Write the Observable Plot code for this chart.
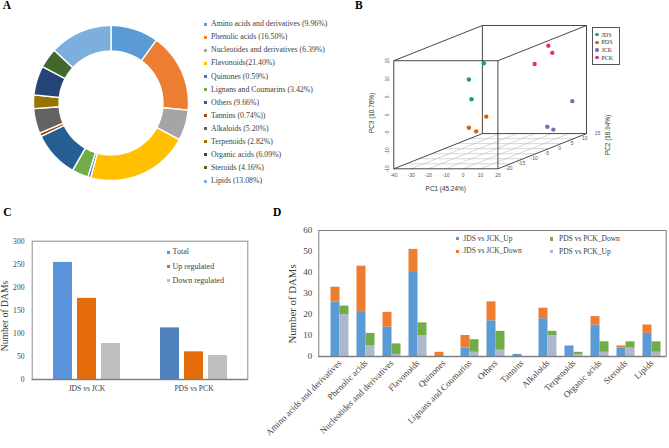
<!DOCTYPE html>
<html><head><meta charset="utf-8">
<script src="https://cdn.jsdelivr.net/npm/d3@7"></script>
<script src="https://cdn.jsdelivr.net/npm/@observablehq/plot@0.6"></script>
<style>
body{margin:0;background:#fff}
#root{position:relative;width:669px;height:448px;overflow:hidden;background:#fff}
#root svg{position:absolute}
.t{position:absolute;white-space:nowrap;line-height:1}
.m{position:absolute}
</style></head><body><div id="root"></div>
<script>
const SERIF = "'Liberation Serif','Times New Roman',serif";
const SANS = "'Liberation Sans',Arial,sans-serif";

// ---------- A: composition donut ----------
const pieNames = ["Amino acids and derivatives","Phenolic acids","Nucleotides and derivatives","Flavonoids","Quinones","Lignans and Coumarins","Others","Tannins","Alkaloids","Terpenoids","Organic acids","Steroids","Lipids"];
const pieLabels = ["Amino acids and derivatives (9.96%)","Phenolic acids (16.50%)","Nucleotides and derivatives (6.39%)","Flavonoids(21.40%)","Quinones (0.59%)","Lignans and Coumarins (3.42%)","Others (9.66%)","Tannins (0.74%))","Alkaloids (5.20%)","Terpenoids (2.82%)","Organic acids (6.09%)","Steroids (4.16%)","Lipids (13.08%)"];
const piePct = [9.96,16.50,6.39,21.40,0.59,3.42,9.66,0.74,5.20,2.82,6.09,4.16,13.08];
const pieColors = ["#5B9BD5","#ED7D31","#A5A5A5","#FFC000","#4472C4","#70AD47","#255E91","#9E480E","#636363","#997300","#264478","#43682B","#7CAFDD"];

// ---------- B: PCA 3D ----------
const pcaGroups = ["JDS","PDS","JCK","PCK"];
const pcaColors = ["#1B9E77","#D95F02","#7570B3","#E7298A"];
const pcaGroup = ["JDS","JDS","JDS","PDS","PDS","PDS","JCK","JCK","JCK","PCK","PCK","PCK"];
const pc1 = [-2.7,-11.3,-9.8,-1.3,-11.3,-7.1,19.1,4.7,8.2,12.6,14.9,4.7];
const pc2 = [-10,-10,-10,-10,-10,-10,10,10,10,5,5,5];
const pc3 = [11.5,7.0,1.5,-3.3,-6.4,-7.4,-4.6,-11.7,-12.5,12.2,10.2,7.1];
const pc1Ticks = [-40,-30,-20,-10,0,10,20];
const pc2Ticks = [-20,-15,-10,-5,0,5,10,15];
const pc3Ticks = [-15,-10,-5,0,5,10,15];

// ---------- C: DAM totals ----------
const cGroups = ["JDS vs JCK","PDS vs PCK"];
const cSeries = ["Total","Up regulated","Down regulated"];
const cTotal = [254,112];
const cUp = [176,60];
const cDown = [78,52];
const cColors = ["#5B94DB","#E46C0A","#BFBFBF"];
const cTotalColors = ["#5B94DB","#4F81BD"];
const cTicks = [0,50,100,150,200,250,300];

// ---------- D: DAMs per class ----------
const dCats = ["Amino acids and derivatives","Phenolic acids","Nucleotides and derivatives","Flavonoids","Quinones","Lignans and Coumarins","Others","Tannins","Alkaloids","Terpenoids","Organic acids","Steroids","Lipids"];
const jdsUp   = [26,21,14,40,0,4,17,1,18,5,15,4,11];
const jdsDown = [7,22,7,11,2,6,9,0,5,0,4,1,4];
const pdsUp   = [20,5,1,10,0,2,3,0,10,1,2,4,2];
const pdsDown = [4,6,5,6,0,6,9,0,2,1,5,3,5];
const dSeries = ["JDS vs JCK_Up","JDS vs JCK_Down","PDS vs PCK_Down","PDS vs PCK_Up"];
const dColors = ["#5B9BD5","#ED7D31","#70AD47","#ADB9CA"];
const dTicks = [0,10,20,30,40,50,60];

const root = document.getElementById("root");
function place(el, x, y){ el.style.left = x+"px"; el.style.top = y+"px"; root.appendChild(el); return el; }
function txt(s, x, y, o={}){
  const d = document.createElement("div"); d.className = "t"; d.textContent = s;
  d.style.fontSize = (o.size||8)+"px"; d.style.fontFamily = o.family||SERIF;
  d.style.color = o.color||"#404040"; if (o.weight) d.style.fontWeight = o.weight;
  const ax = o.anchor==="middle" ? "-50%" : o.anchor==="end" ? "-100%" : "0";
  d.style.transform = `translate(${ax},-50%)` + (o.rotate ? ` rotate(${o.rotate}deg)` : "");
  return place(d, x, y);
}
function mark(x, y, w, h, color, round){
  const d = document.createElement("div"); d.className = "m";
  d.style.width = w+"px"; d.style.height = h+"px"; d.style.background = color;
  if (round) d.style.borderRadius = "50%";
  return place(d, x - w/2, y - h/2);
}
const baseStyle = (fs, fam, col) => ({background:"transparent", fontFamily:fam, fontSize:fs, color:col, overflow:"visible"});

// ===== A =====
const arcs = d3.pie().sort(null).value(d => d)(piePct);
const R0 = 0.67;
const ring = [];
arcs.forEach((a, i) => {
  const n = Math.max(2, Math.ceil((a.endAngle - a.startAngle) / 0.015));
  for (let k = 0; k <= n; k++) { const t = a.startAngle + (a.endAngle - a.startAngle) * k / n; ring.push({name: pieNames[i], x: Math.sin(t), y: Math.cos(t)}); }
  for (let k = n; k >= 0; k--) { const t = a.startAngle + (a.endAngle - a.startAngle) * k / n; ring.push({name: pieNames[i], x: R0*Math.sin(t), y: R0*Math.cos(t)}); }
});
const plotA = Plot.plot({
  width: 220, height: 205, margin: 0,
  style: baseStyle("8px", SERIF, "#404040"),
  x: {domain: [-1, 1], range: [33, 188], axis: null},
  y: {domain: [-1, 1], range: [180, 25], axis: null},
  color: {domain: pieNames, range: pieColors},
  marks: [Plot.line(ring, {x: "x", y: "y", z: "name", fill: "name", stroke: "white", strokeWidth: 1.4, curve: "linear-closed"})]
});
place(plotA, 0, 0);
pieLabels.forEach((s, i) => {
  const y = 24.3 + i * 13.06;
  mark(205.5, y, 3, 3, pieColors[i]);
  txt(s, 211, y, {size: 7.8});
});

// ===== B =====
const dX = 88.5/104, dY = 35.3/108.3;
const proj = (a, b, c) => { const t = (b + 20) / 35; return [(a + 40) / 60 + dX * t, (c + 15) / 30 + dY * t]; };
const lo = [-40, -20, -15], hi = [20, 15, 15];
const edges = [];
for (let ax = 0; ax < 3; ax++) {
  const o = [0,1,2].filter(k => k !== ax);
  for (const s1 of [0,1]) for (const s2 of [0,1]) {
    const p = [0,0,0], q = [0,0,0];
    p[ax] = lo[ax]; q[ax] = hi[ax];
    p[o[0]] = q[o[0]] = s1 ? hi[o[0]] : lo[o[0]];
    p[o[1]] = q[o[1]] = s2 ? hi[o[1]] : lo[o[1]];
    edges.push({a: proj(...p), b: proj(...q)});
  }
}
const grid = [];
pc1Ticks.slice(1, -1).forEach(v => grid.push({a: proj(v, -20, -15), b: proj(v, 15, -15)}));
pc2Ticks.slice(1, -1).forEach(v => grid.push({a: proj(-40, v, -15), b: proj(20, v, -15)}));
const pts = pcaGroup.map((g, i) => ({g, p: proj(pc1[i], pc2[i], pc3[i])}));
const plotB = Plot.plot({
  width: 339, height: 205, margin: 0,
  style: baseStyle("5px", SANS, "#444"),
  x: {domain: [0, 1 + dX], range: [63.3, 256], axis: null},
  y: {domain: [0, 1 + dY], range: [168.3, 25], axis: null},
  color: {domain: pcaGroups, range: pcaColors},
  marks: [
    Plot.link(grid, {x1: d => d.a[0], y1: d => d.a[1], x2: d => d.b[0], y2: d => d.b[1], stroke: "#bdbdbd", strokeWidth: 0.6}),
    Plot.link(edges, {x1: d => d.a[0], y1: d => d.a[1], x2: d => d.b[0], y2: d => d.b[1], stroke: "#333", strokeWidth: 0.9}),
    Plot.text(pc1Ticks, {x: v => proj(v, -20, -15)[0], y: v => proj(v, -20, -15)[1], text: v => String(v), dy: 6.3, fontSize: 5, fill: "#555"}),
    Plot.text(pc3Ticks, {x: v => proj(-40, -20, v)[0], y: v => proj(-40, -20, v)[1], text: v => String(v), dx: -6.6, rotate: -90, fontSize: 5, fill: "#555"}),
    Plot.text(pc2Ticks, {x: v => proj(20, v, -15)[0], y: v => proj(20, v, -15)[1], text: v => String(v), dx: 11, dy: -0.5, fontSize: 5, fill: "#555"}),
    Plot.dot(pts, {x: d => d.p[0], y: d => d.p[1], fill: "g", r: 2.2, stroke: "none"})
  ]
});
place(plotB, 330, 0);
txt("PC1 (45.24%)", 445.7, 189.3, {size: 6.4, family: SANS, anchor: "middle", color: "#333"});
txt("PC3 (10.76%)", 371.7, 113, {size: 6.4, family: SANS, anchor: "middle", rotate: -90, color: "#333"});
txt("PC2 (16.94%)", 608.3, 135, {size: 6.4, family: SANS, anchor: "middle", rotate: -90, color: "#333"});
{
  const b = document.createElement("div"); b.className = "m";
  b.style.width = "26px"; b.style.height = "36px"; b.style.border = "0.8px solid #555";
  place(b, 591.7, 27.3);
  pcaGroups.forEach((g, i) => { const y = 34.7 + i * 7.7; mark(596.9, y, 3.4, 3.4, pcaColors[i], true); txt(g, 601.5, y, {size: 6, color: "#333"}); });
}

// ===== C =====
const cRows = k => cGroups.map((g, i) => ({g, v: [cTotal, cUp, cDown][k][i], c: k === 0 ? cTotalColors[i] : cColors[k]}));
const plotC = Plot.plot({
  width: 250, height: 175, marginLeft: 31.7, marginRight: 2.7, marginTop: 15.7, marginBottom: 21,
  style: baseStyle("7.6px", SERIF, "#404040"),
  x: {domain: cGroups, range: [31.7, 247.3], paddingInner: 0.8237, paddingOuter: 0.412, tickSize: 0, tickPadding: 6, label: null},
  y: {domain: [0, 300], ticks: cTicks, tickSize: 0, tickPadding: 7.7, label: null},
  marks: [
    Plot.frame({stroke: "#8c8c8c", strokeWidth: 1}),
    Plot.barY(cRows(0), {x: "g", y: "v", fill: "c", dx: -24}),
    Plot.barY(cRows(1), {x: "g", y: "v", fill: "c", dx: 0}),
    Plot.barY(cRows(2), {x: "g", y: "v", fill: "c", dx: 24}),
    Plot.ruleY([0], {stroke: "#7f7f7f", strokeWidth: 1.6})
  ]
});
place(plotC, 0, 225);
txt("Number of DAMs", 5, 315.8, {size: 9.6, anchor: "middle", rotate: -90});
cSeries.forEach((s, i) => { const y = 252.3 + i * 14.2; mark(168.3, y, 3.6, 3.6, i === 0 ? cTotalColors[0] : cColors[i]); txt(s, 172.6, y, {size: 8}); });

// ===== D =====
const dRows = [];
dCats.forEach((c, i) => {
  dRows.push({cat: c, cmp: "J", s: dSeries[0], v: jdsUp[i]});
  dRows.push({cat: c, cmp: "J", s: dSeries[1], v: jdsDown[i]});
  dRows.push({cat: c, cmp: "P", s: dSeries[3], v: pdsUp[i]});
  dRows.push({cat: c, cmp: "P", s: dSeries[2], v: pdsDown[i]});
});
const plotD = Plot.plot({
  width: 439, height: 223, marginLeft: 88.3, marginRight: 3.3, marginTop: 5, marginBottom: 92,
  style: baseStyle("9px", SERIF, "#404040"),
  x: {domain: dCats, range: [94.55, 436.45], paddingInner: 0.658, paddingOuter: 0.329, tickSize: 0, tickPadding: 5, tickRotate: -45, label: null},
  y: {domain: [0, 60], ticks: dTicks, tickSize: 0, tickPadding: 6.6, label: null},
  color: {domain: dSeries, range: dColors},
  marks: [
    Plot.frame({stroke: "#7f7f7f", strokeWidth: 1}),
    Plot.barY(dRows.filter(d => d.cmp === "J"), Plot.stackY({x: "cat", y: "v", fill: "s", dx: -4.5})),
    Plot.barY(dRows.filter(d => d.cmp === "P"), Plot.stackY({x: "cat", y: "v", fill: "s", dx: 4.5})),
    Plot.ruleY([0], {stroke: "#7f7f7f", strokeWidth: 1.4})
  ]
});
place(plotD, 230, 225);
txt("Number of DAMs", 291.7, 304, {size: 10.8, anchor: "middle", rotate: -90});
[[0, 457.7, 238.5, 463.3], [1, 457.7, 251.3, 463.3], [2, 551.7, 239, 559], [3, 551.7, 251.7, 559]].forEach(([k, mx, y, tx]) => {
  mark(mx, y, 3.6, 3.6, dColors[k]); txt(dSeries[k], tx, y, {size: 7.5});
});

// panel letters
txt("A", 2.7, 5.6, {size: 11.5, weight: "bold", color: "#000"});
txt("B", 355, 5.6, {size: 11.5, weight: "bold", color: "#000"});
txt("C", 3.3, 213.2, {size: 11.5, weight: "bold", color: "#000"});
txt("D", 273, 213.2, {size: 11.5, weight: "bold", color: "#000"});
</script></body></html>
